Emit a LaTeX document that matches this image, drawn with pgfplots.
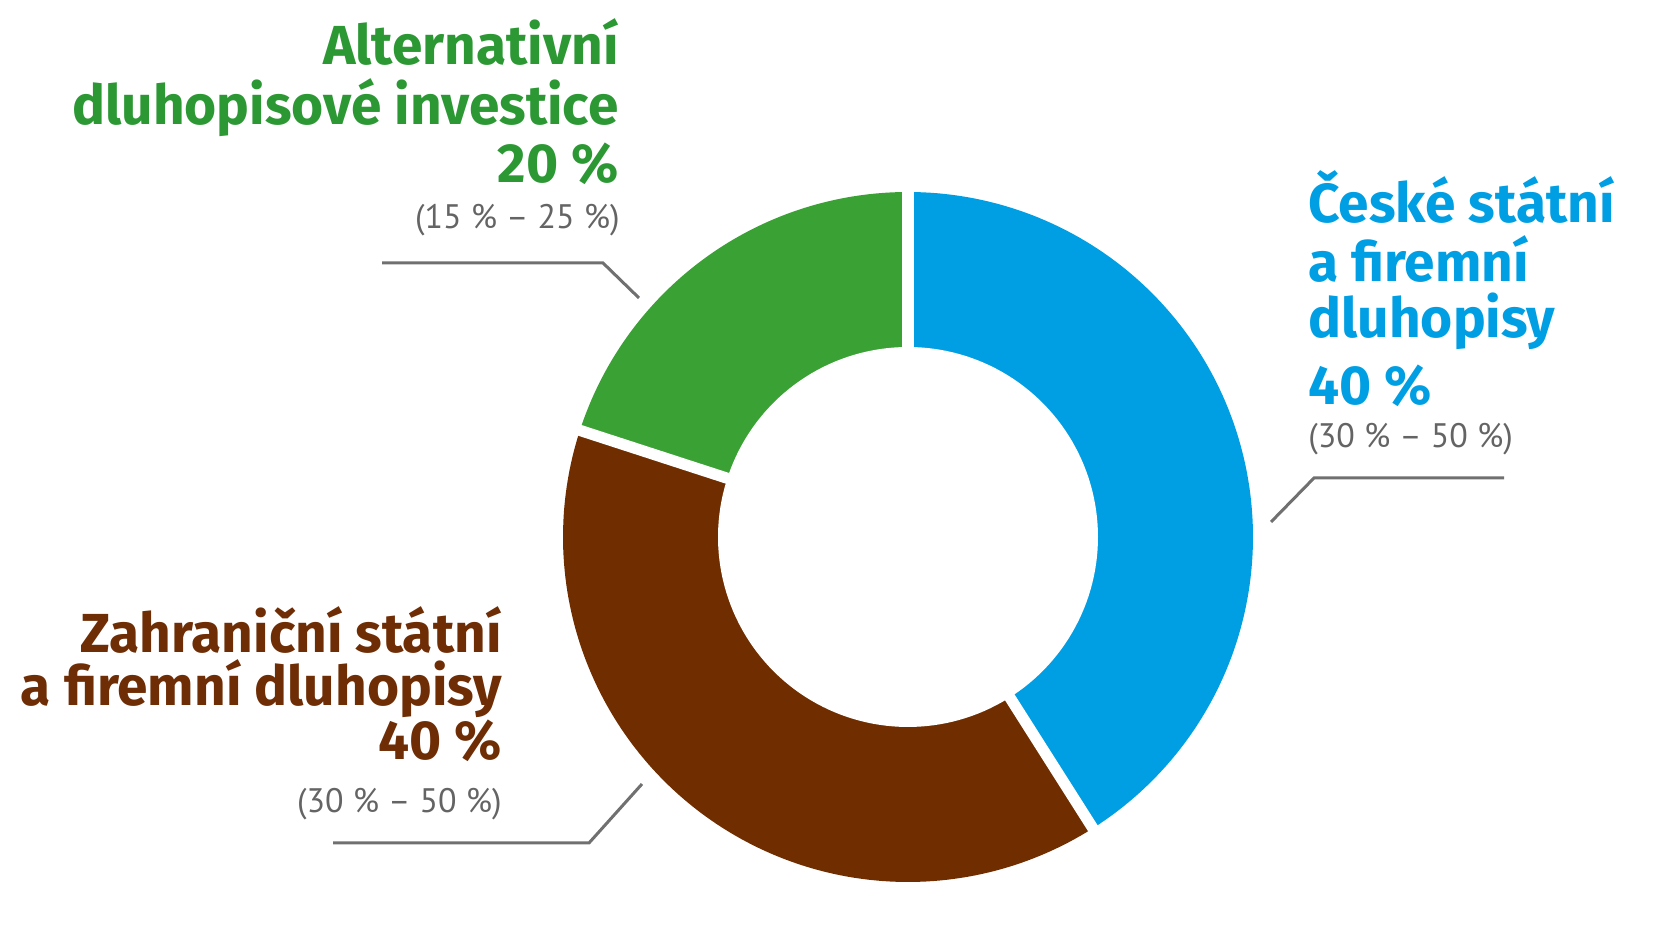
\documentclass[border=0pt]{standalone}
\usepackage{fontspec}
\setmainfont{PT Sans}
\newfontfamily\firaf{Fira Sans}
\usepackage{pgfplots}
\usepackage{pgfplotstable}
\pgfplotsset{compat=1.18}
\definecolor{cblue}{RGB}{0,158,226}
\definecolor{cgreen}{RGB}{58,162,52}
\definecolor{cgreentext}{RGB}{44,152,52}
\definecolor{cbrown}{RGB}{112,46,0}
\definecolor{cbrowntext}{RGB}{111,45,5}
\definecolor{cgraytext}{RGB}{100,100,100}
\definecolor{cgrayline}{RGB}{112,112,112}
\newcommand\bigf{\firaf\fontsize{27.5}{30}\selectfont\bfseries}
\newcommand\smallf{\fontsize{17}{19}\selectfont}
\pgfplotstableread[col sep=comma]{
part,share
ceske,41
zahranicni,39
alternativni,20
}\shares
\pgfplotstablegetelem{0}{share}\of\shares \let\sA\pgfplotsretval
\pgfplotstablegetelem{1}{share}\of\shares \let\sB\pgfplotsretval
\pgfplotstablegetelem{2}{share}\of\shares \let\sC\pgfplotsretval
\pgfmathsetmacro\aZ{90}
\pgfmathsetmacro\aA{90-3.6*\sA}
\pgfmathsetmacro\aB{90-3.6*(\sA+\sB)}
\pgfmathsetmacro\aC{90-3.6*(\sA+\sB+\sC)}
\begin{document}
\begin{tikzpicture}
\begin{axis}[x=0.5pt, y=0.5pt, xmin=0, xmax=1662, ymin=0, ymax=946,
  hide axis, clip=false]
% slices
\addplot[fill=cblue, draw=none, domain=\aA:\aZ, samples=120, variable=\t]
  ({908+345*cos(\t)},{409+345*sin(\t)}) -- (axis cs:908,409) -- cycle;
\addplot[fill=cbrown, draw=none, domain=\aB:\aA, samples=120, variable=\t]
  ({908+345*cos(\t)},{409+345*sin(\t)}) -- (axis cs:908,409) -- cycle;
\addplot[fill=cgreen, draw=none, domain=\aC:\aB, samples=80, variable=\t]
  ({908+345*cos(\t)},{409+345*sin(\t)}) -- (axis cs:908,409) -- cycle;
% hole
\addplot[fill=white, draw=none, domain=0:360, samples=180, variable=\t]
  ({908+190*cos(\t)},{409+190*sin(\t)}) -- cycle;
% gaps
\addplot[white, line width=5.6pt, domain=180:360, samples=2, variable=\t]
  ({908+\t*cos(\aZ)},{409+\t*sin(\aZ)});
\addplot[white, line width=5.6pt, domain=180:360, samples=2, variable=\t]
  ({908+\t*cos(\aA)},{409+\t*sin(\aA)});
\addplot[white, line width=5.6pt, domain=180:360, samples=2, variable=\t]
  ({908+\t*cos(\aB)},{409+\t*sin(\aB)});
% leader lines
\addplot[cgrayline, line width=1.5pt] coordinates {(382,683) (603,683) (639,648)};
\addplot[cgrayline, line width=1.5pt] coordinates {(1271,424) (1314,468) (1504,468)};
\addplot[cgrayline, line width=1.5pt] coordinates {(642,162) (589,103) (333,103)};
% labels green
\node[anchor=base east, inner sep=0pt, text=cgreentext, font=\bigf] at (axis cs:619,881) {Alternativní};
\node[anchor=base east, inner sep=0pt, text=cgreentext, font=\bigf] at (axis cs:619,821) {dluhopisové investice};
\node[anchor=base east, inner sep=0pt, text=cgreentext, font=\bigf] at (axis cs:619,763) {20 \%};
\node[anchor=base east, inner sep=0pt, text=cgraytext, font=\smallf] at (axis cs:620,717) {(15 \% – 25 \%)};
% labels blue
\node[anchor=base west, inner sep=0pt, text=cblue, font=\bigf] at (axis cs:1308,723) {České státní};
\node[anchor=base west, inner sep=0pt, text=cblue, font=\bigf] at (axis cs:1308,664) {a firemní};
\node[anchor=base west, inner sep=0pt, text=cblue, font=\bigf] at (axis cs:1308,608) {dluhopisy};
\node[anchor=base west, inner sep=0pt, text=cblue, font=\bigf] at (axis cs:1308,541) {40 \%};
\node[anchor=base west, inner sep=0pt, text=cgraytext, font=\smallf] at (axis cs:1308,498) {(30 \% – 50 \%)};
% labels brown
\node[anchor=base east, inner sep=0pt, text=cbrowntext, font=\bigf] at (axis cs:502,293) {Zahraniční státní};
\node[anchor=base east, inner sep=0pt, text=cbrowntext, font=\bigf] at (axis cs:502,240) {a firemní dluhopisy};
\node[anchor=base east, inner sep=0pt, text=cbrowntext, font=\bigf] at (axis cs:502,186) {40 \%};
\node[anchor=base east, inner sep=0pt, text=cgraytext, font=\smallf] at (axis cs:502,133) {(30 \% – 50 \%)};
\end{axis}
\pgfresetboundingbox
\path (current axis.south west) rectangle (current axis.north east);
\end{tikzpicture}
\end{document}
